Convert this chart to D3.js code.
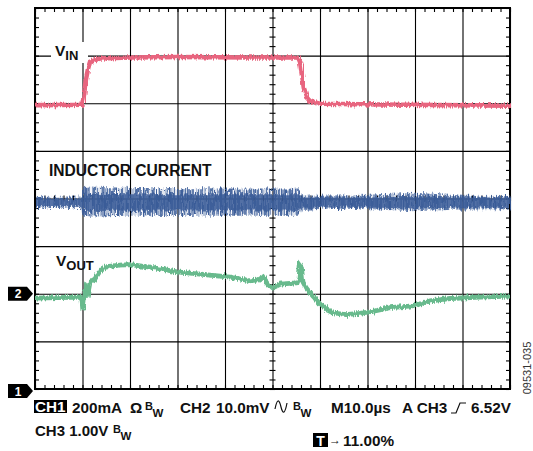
<!DOCTYPE html>
<html>
<head>
<meta charset="utf-8">
<script src="https://cdn.jsdelivr.net/npm/d3@7"></script>
<style>
  body { margin: 0; background: #fff; }
  text { font-family: "Liberation Sans", Arial, sans-serif; font-weight: bold; fill: #111; }
</style>
</head>
<body>
<div id="scope"></div>
<script>
// time in us (10 us/div), amplitude in divisions
var vinT = [0, 10, 10.3, 10.7, 11.2, 11.6, 12.6, 13.7, 20, 30, 45, 55.4, 55.8, 56.2, 56.6, 57.3, 57.9, 60, 77, 100];
var vinV = [1.96, 1.97, 2.17, 2.49, 2.74, 2.87, 2.91, 2.94, 2.96, 2.97, 2.96, 2.96, 2.87, 2.59, 2.32, 2.11, 2.04, 1.99, 1.97, 1.95];

var indT = [0, 9.9, 10.2, 12, 20, 30, 40, 50, 55.5, 56.2, 60, 70, 80, 90, 100];
var indHi = [0.03, 0.04, 0.24, 0.25, 0.22, 0.22, 0.21, 0.21, 0.21, 0.07, 0.06, 0.08, 0.12, 0.06, 0.05];
var indLo = [-0.20, -0.20, -0.36, -0.38, -0.36, -0.37, -0.36, -0.36, -0.36, -0.24, -0.22, -0.22, -0.27, -0.23, -0.22];
var indCoreHi = [-0.01, -0.01, 0.10, 0.10, 0.09, 0.09, 0.09, 0.09, 0.09, 0.02, 0.02, 0.02, 0.04, 0.02, 0.02];
var indCoreLo = [-0.16, -0.16, -0.25, -0.26, -0.25, -0.25, -0.25, -0.25, -0.25, -0.19, -0.19, -0.19, -0.21, -0.19, -0.19];

var voutT = [0, 9.5, 9.9, 10.1, 10.4, 10.7, 11.2, 11.6, 12.6, 13.7, 15.2, 17.9, 20, 24.2, 29.9, 34.7, 41.1, 45.3, 47, 48,
             49, 49.9, 51.6, 55.2, 55.6, 55.8, 56.1, 56.4, 57.1, 57.9, 58.9, 60, 61.5, 62.7, 65.3, 68.4, 71.6, 74.7, 78.9, 81,
             83.2, 87.4, 93.7, 100];
var voutV = [-2.09, -2.07, -2.13, -2.34, -2.09, -1.88, -1.96, -1.75, -1.69, -1.52, -1.43, -1.40, -1.39, -1.44, -1.54, -1.59, -1.65, -1.73, -1.71, -1.65,
             -1.80, -1.88, -1.80, -1.77, -1.67, -1.42, -1.46, -1.75, -1.88, -1.98, -2.09, -2.22, -2.34, -2.40, -2.44, -2.41, -2.36, -2.29, -2.26, -2.22,
             -2.15, -2.10, -2.07, -2.05];

// channel ground markers (divisions)
var markerNames = ["2", "1"];
var markerLevels = [-2, -4];

var W = 533, H = 451;
var plot = {left: 35, right: 510, top: 8, bottom: 389};

var svg = d3.select("#scope").append("svg")
    .attr("width", W)
    .attr("height", H);

var x = d3.scaleLinear().domain([0, 100]).range([plot.left, plot.right]);
var y = d3.scaleLinear().domain([-4, 4]).range([plot.bottom, plot.top]);

var defs = svg.append("defs");
var pat = defs.append("pattern")
    .attr("id", "ripple")
    .attr("patternUnits", "userSpaceOnUse")
    .attr("width", 2.6).attr("height", 10);
pat.append("rect").attr("width", 1.5).attr("height", 10).attr("fill", "#3a5c98");

function noiseFilter(id, freq, amount) {
  var f = defs.append("filter").attr("id", id)
      .attr("x", "-5%").attr("y", "-30%").attr("width", "110%").attr("height", "160%");
  f.append("feTurbulence").attr("type", "fractalNoise")
      .attr("baseFrequency", freq).attr("numOctaves", 2).attr("seed", 7).attr("result", "t");
  f.append("feDisplacementMap").attr("in", "SourceGraphic").attr("in2", "t")
      .attr("scale", amount).attr("xChannelSelector", "R").attr("yChannelSelector", "G");
}
noiseFilter("noise", "0.9 0.08", 5);
noiseFilter("noiseI", "0.6 0.05", 7);

// grid: major lines
svg.append("g")
    .attr("transform", "translate(0," + plot.bottom + ")")
    .call(d3.axisBottom(x).ticks(10).tickSize(-(plot.bottom - plot.top)).tickFormat(""))
    .call(function(g) { g.select(".domain").remove(); })
    .selectAll("line").attr("stroke", "#000").attr("stroke-width", 1.1);

svg.append("g")
    .attr("transform", "translate(" + plot.left + ",0)")
    .call(d3.axisLeft(y).ticks(8).tickSize(-(plot.right - plot.left)).tickFormat(""))
    .call(function(g) { g.select(".domain").remove(); })
    .selectAll("line").attr("stroke", "#000").attr("stroke-width", 1.1);

// minor ticks on the edges
function minor(g) {
  g.select(".domain").remove();
  g.selectAll("line").attr("stroke", "#000").attr("stroke-width", 1.1);
}
svg.append("g").attr("transform", "translate(0," + plot.top + ")")
    .call(d3.axisTop(x).ticks(50).tickSize(-4).tickFormat("")).call(minor);
svg.append("g").attr("transform", "translate(0," + plot.bottom + ")")
    .call(d3.axisBottom(x).ticks(50).tickSize(-4).tickFormat("")).call(minor);
svg.append("g").attr("transform", "translate(" + plot.left + ",0)")
    .call(d3.axisLeft(y).ticks(40).tickSize(-4).tickFormat("")).call(minor);
svg.append("g").attr("transform", "translate(" + plot.right + ",0)")
    .call(d3.axisRight(y).ticks(40).tickSize(-4).tickFormat("")).call(minor);

// minor ticks on the centre cross
var cx = x(50), cy = y(0);
svg.append("g").attr("transform", "translate(" + (cx - 3) + ",0)")
    .call(d3.axisRight(y).ticks(40).tickSize(6).tickFormat("")).call(minor);
svg.append("g").attr("transform", "translate(0," + (cy - 3) + ")")
    .call(d3.axisBottom(x).ticks(50).tickSize(6).tickFormat("")).call(minor);

svg.append("rect")
    .attr("x", plot.left).attr("y", plot.top)
    .attr("width", plot.right - plot.left).attr("height", plot.bottom - plot.top)
    .attr("fill", "none").attr("stroke", "#000").attr("stroke-width", 2);

// labels in the graticule
svg.append("rect").attr("x", 51).attr("y", 42).attr("width", 37).attr("height", 21).attr("fill", "#fff");
var vin = svg.append("text").attr("x", 55).attr("y", 56).style("font-size", "15.5px");
vin.append("tspan").text("V");
vin.append("tspan").attr("dy", 4).style("font-size", "13px").text("IN");

svg.append("text").attr("x", 49).attr("y", 176).style("font-size", "15.6px").text("INDUCTOR CURRENT");

var vo = svg.append("text").attr("x", 56).attr("y", 266).style("font-size", "15.5px");
vo.append("tspan").text("V");
vo.append("tspan").attr("dy", 4).style("font-size", "13px").text("OUT");

// traces
var inductor = indT.map(function(t, i) {
  return {t: t, hi: indHi[i], lo: indLo[i], chi: indCoreHi[i], clo: indCoreLo[i]};
});
svg.append("path")
    .datum(inductor)
    .attr("fill", "url(#ripple)")
    .attr("filter", "url(#noiseI)")
    .attr("d", d3.area()
        .x(function(d) { return x(d.t); })
        .y0(function(d) { return y(d.lo); })
        .y1(function(d) { return y(d.hi); }));
svg.append("path")
    .datum(inductor)
    .attr("fill", "#3a5c98")
    .attr("fill-opacity", 0.85)
    .attr("filter", "url(#noiseI)")
    .attr("d", d3.area()
        .x(function(d) { return x(d.t); })
        .y0(function(d) { return y(d.clo); })
        .y1(function(d) { return y(d.chi); }));

var line = d3.line()
    .x(function(d) { return x(d[0]); })
    .y(function(d) { return y(d[1]); });

svg.append("path")
    .datum(d3.zip(vinT, vinV))
    .attr("fill", "none")
    .attr("stroke", "#e8657f")
    .attr("stroke-width", 4.6)
    .attr("filter", "url(#noise)")
    .attr("d", line);

svg.append("path")
    .datum(d3.zip(voutT, voutV))
    .attr("fill", "none")
    .attr("stroke", "#68ba8d")
    .attr("stroke-width", 4.8)
    .attr("filter", "url(#noise)")
    .attr("d", line);

// channel markers
markerLevels.forEach(function(lv, i) {
  var my = y(lv) + (lv === -4 ? 2 : 0);
  svg.append("path")
      .attr("d", "M8," + (my - 7) + "H27L33," + my + "L27," + (my + 7) + "H8Z")
      .attr("fill", "#000");
  svg.append("text")
      .attr("x", 18).attr("y", my + 4.5)
      .attr("text-anchor", "middle")
      .style("font-size", "12px").style("fill", "#fff")
      .text(markerNames[i]);
});

// readout
var fs = "15.3px";
svg.append("rect").attr("x", 34).attr("y", 400).attr("width", 33).attr("height", 13).attr("fill", "#000");
svg.append("text").attr("x", 35).attr("y", 412).style("font-size", fs).style("fill", "#fff").text("CH1");
svg.append("text").attr("x", 72).attr("y", 413).style("font-size", fs).text("200mA");
svg.append("text").attr("x", 130).attr("y", 413).style("font-size", fs).text("Ω");
function bw(xp, base) {
  svg.append("text").attr("x", xp).attr("y", base - 3).style("font-size", "11px").text("B");
  svg.append("text").attr("x", xp + 7.5).attr("y", base + 4).style("font-size", "11.5px").text("W");
}
bw(145, 413);
svg.append("text").attr("x", 180).attr("y", 413).style("font-size", fs).text("CH2");
svg.append("text").attr("x", 216).attr("y", 413).style("font-size", fs).text("10.0mV");
svg.append("path").attr("d", "M275,409 Q278,394 281,407 Q284,419 287,403")
    .attr("fill", "none").attr("stroke", "#111").attr("stroke-width", 1.2);
bw(293, 413);
svg.append("text").attr("x", 331).attr("y", 413).style("font-size", fs).text("M10.0µs");
svg.append("text").attr("x", 402).attr("y", 413).style("font-size", fs).text("A CH3");
svg.append("path").attr("d", "M451,413H456L460,403H466")
    .attr("fill", "none").attr("stroke", "#111").attr("stroke-width", 1.2);
svg.append("text").attr("x", 471).attr("y", 413).style("font-size", fs).text("6.52V");

svg.append("text").attr("x", 35).attr("y", 435.5).style("font-size", "15px").text("CH3 1.00V");
bw(113, 435.5);

svg.append("rect").attr("x", 313).attr("y", 433).attr("width", 15).attr("height", 14).attr("fill", "#000");
svg.append("text").attr("x", 320.5).attr("y", 445.5).attr("text-anchor", "middle")
    .style("font-size", "14px").style("fill", "#fff").text("T");
svg.append("text").attr("x", 329).attr("y", 444).style("font-size", "12px").text("→");
svg.append("text").attr("x", 343).attr("y", 446).style("font-size", fs).text("11.00%");

svg.append("text")
    .attr("transform", "translate(531,368) rotate(-90)")
    .attr("text-anchor", "middle")
    .style("font-size", "11px").style("font-weight", "normal").style("fill", "#333")
    .text("09531-035");
</script>
</body>
</html>
